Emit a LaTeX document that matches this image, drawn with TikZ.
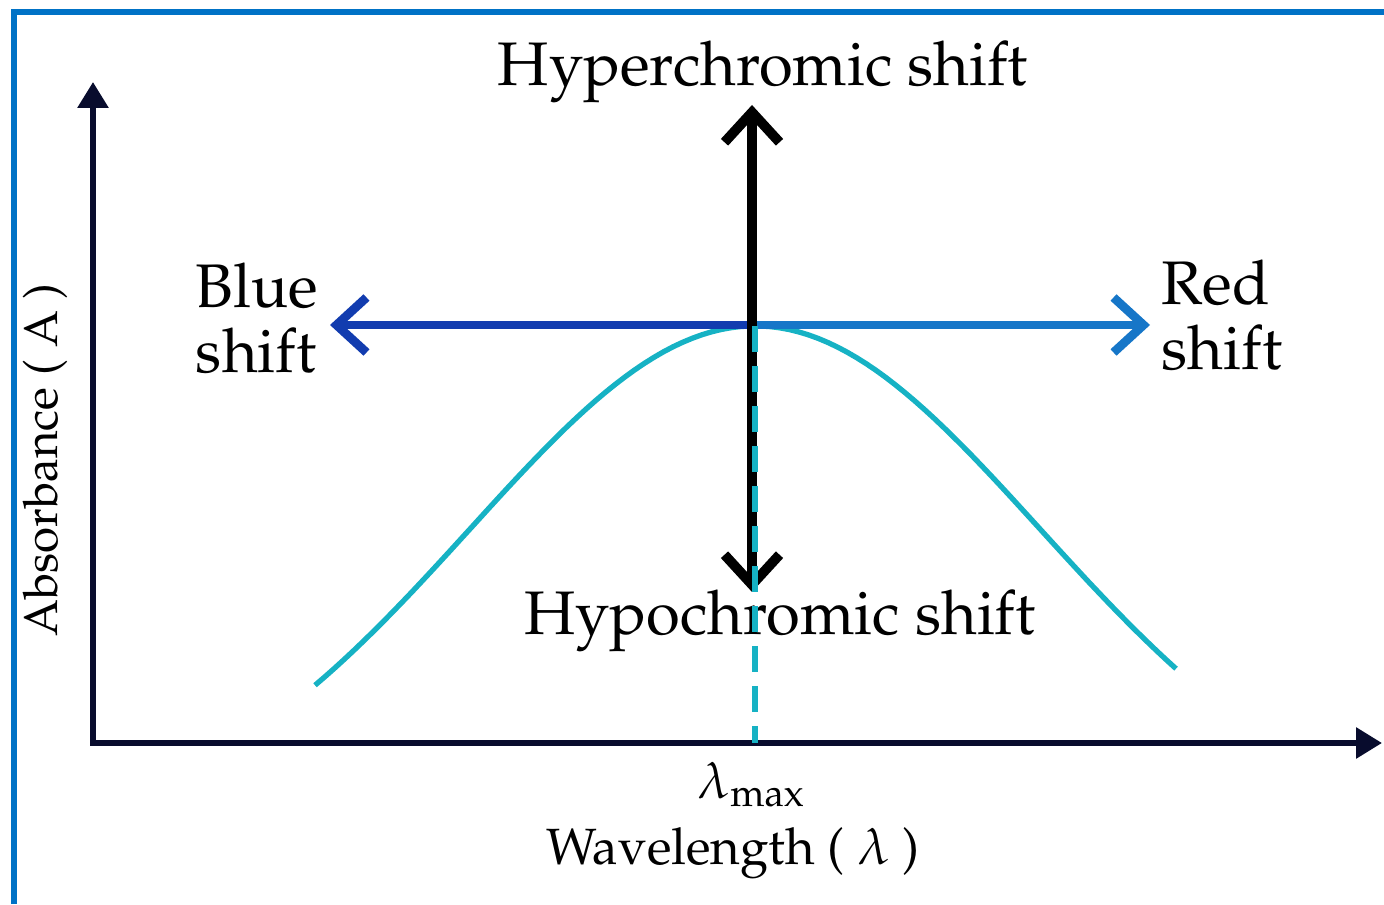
\documentclass[tikz,border=0pt]{standalone}
\usepackage[T1]{fontenc}
\usepackage{mathpazo}
\usetikzlibrary{arrows.meta}
\definecolor{frameblue}{RGB}{0,114,198}
\definecolor{axisnavy}{RGB}{8,12,45}
\definecolor{bandteal}{RGB}{22,178,196}
\definecolor{bluedark}{RGB}{18,60,175}
\definecolor{bluelight}{RGB}{22,118,200}

\begin{document}
\begin{tikzpicture}[
  every node/.style={font=\fontsize{17.5}{18.5}\selectfont},
  axis/.style={{Triangle[length=2.6mm,width=3mm]}-{Triangle[length=2.6mm,width=3mm]},
    line width=1.7pt,draw=axisnavy},
  shiftarrow/.style={-{Straight Barb[length=3mm,width=5.5mm]},line width=2.5pt},
  lbl/.style={font=\fontsize{14.5}{17}\selectfont}]
  \useasboundingbox (0,0) rectangle (13.84,9.04);
  % frame, only top and left edges show
  \draw[frameblue,line width=1.5pt] (0.14,0) -- (0.14,8.92) -- (13.84,8.92);

  % axes
  \coordinate (O) at (0.93,1.61);
  \coordinate (ytop) at (0.93,8.22);
  \coordinate (xend) at (13.82,1.61);
  \draw[axis] (ytop) -- (O) -- (xend);
  \node[font=\fontsize{13.5}{16}\selectfont,rotate=90] (absorb) at (0.45,4.44) {Absorbance ( A )};
  \node[lbl] (wave) at (7.33,0.51) {Wavelength ( $\lambda$ )};
  \node[lbl] (lmaxlbl) at (7.52,1.19) {$\lambda_{\mathrm{max}}$};

  % labels of the shifts
  \node (hyper) at (7.63,8.32) {Hyperchromic shift};
  \node (hypo) at (7.80,2.83) {Hypochromic shift};
  \node[align=left] (blue) at (2.57,5.86) {Blue\\shift};
  \node[align=left] (red) at (12.22,5.89) {Red\\shift};

  % absorption band
  \draw[bandteal,line width=1.5pt] plot[domain=3.15:11.76,samples=90]
    (\x,{0.62+5.16*exp(-((\x-7.55)^2)/16.245)});
  \coordinate (peak) at (7.55,5.78);
  \coordinate (lmax) at (7.55,1.61);

  % shift arrows
  \coordinate (cross) at (7.52,5.79);
  \coordinate (bluetip) at (3.30,5.79);
  \coordinate (redtip) at (11.50,5.79);
  \coordinate (hypertip) at (7.52,7.99);
  \coordinate (hypotip) at (7.52,3.12);
  \draw[shiftarrow,bluedark] (cross) -- (bluetip);
  \draw[shiftarrow,bluelight] (cross) -- (redtip);
  \draw[shiftarrow,black,line width=2.8pt] (cross) -- (hypertip);
  \draw[shiftarrow,black,line width=2.8pt] (cross) -- (hypotip);
  \draw[bandteal,line width=1.5pt,dash pattern=on 2.6mm off 1.4mm] (peak) -- (lmax);
\end{tikzpicture}
\end{document}
